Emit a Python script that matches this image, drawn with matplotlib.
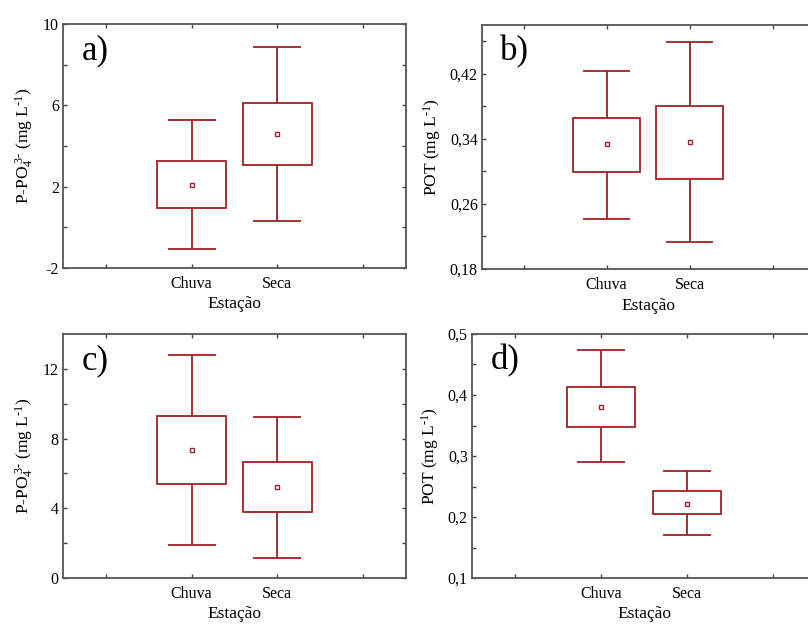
import matplotlib
matplotlib.use("Agg")
import matplotlib.pyplot as plt
import numpy as np

plt.rcParams['font.family'] = ['Liberation Serif', 'DejaVu Serif']
plt.rcParams['mathtext.fontset'] = 'custom'
plt.rcParams['mathtext.rm'] = 'Liberation Serif'
plt.rcParams['mathtext.it'] = 'Liberation Serif:italic'

# stations (categories)
estacoes = ['Chuva', 'Seca']

# panel a) P-PO4 (mg/L)
a_mean = [2.1, 4.6]
a_box_lo = [0.97, 3.05]
a_box_hi = [3.27, 6.12]
a_whi_lo = [-1.07, 0.33]
a_whi_hi = [5.27, 8.88]

# panel b) POT (mg/L)
b_mean = [0.3335, 0.3367]
b_box_lo = [0.299, 0.291]
b_box_hi = [0.366, 0.380]
b_whi_lo = [0.241, 0.213]
b_whi_hi = [0.424, 0.4585]

# panel c) P-PO4 (mg/L)
c_mean = [7.37, 5.22]
c_box_lo = [5.39, 3.77]
c_box_hi = [9.32, 6.68]
c_whi_lo = [1.89, 1.13]
c_whi_hi = [12.82, 9.26]

# panel d) POT (mg/L)
d_mean = [0.381, 0.222]
d_box_lo = [0.3475, 0.2044]
d_box_hi = [0.4138, 0.2421]
d_whi_lo = [0.2897, 0.170]
d_whi_hi = [0.4733, 0.2754]

RED = '#9e2226'
PO4_LABEL = r'P-PO$_4^{\ 3\text{-}}$ (mg L$^{\text{-}1}$)'
POT_LABEL = r'POT (mg L$^{\text{-}1}$)'


def box_panel(ax, mean, blo, bhi, wlo, whi, ylim, major, minor, fmt, letter, ylabel):
    x = np.arange(1, len(estacoes) + 1)
    blo = np.array(blo); bhi = np.array(bhi)
    ax.bar(x, bhi - blo, bottom=blo, width=0.8, fill=False,
           edgecolor=RED, linewidth=1.3, zorder=2)
    ax.vlines(x, bhi, whi, color=RED, linewidth=1.3)
    ax.vlines(x, wlo, blo, color=RED, linewidth=1.3)
    ax.hlines(whi, x - 0.28, x + 0.28, color=RED, linewidth=1.3)
    ax.hlines(wlo, x - 0.28, x + 0.28, color=RED, linewidth=1.3)
    ax.plot(x, mean, 's', ms=3, mfc='white', mec=RED, mew=1.0, zorder=3)

    ax.set_xlim(-0.5, 3.5)
    ax.set_xticks([0, 1, 2, 3])
    ax.set_xticklabels(['', estacoes[0], estacoes[1], ''])
    ax.set_ylim(*ylim)
    ax.set_yticks(major)
    ax.set_yticks(minor, minor=True)
    ax.set_yticklabels([fmt(v).replace('.', ',') for v in major])
    ax.tick_params(which='both', direction='in', top=True, right=True,
                   length=3, width=1, color='#444444', labelsize=11.5, pad=3)
    ax.tick_params(axis='x', pad=6)
    for s in ax.spines.values():
        s.set_color('#555555')
        s.set_linewidth(1.3)
    ax.set_xlabel('Estação', fontsize=12.5, labelpad=3)
    ax.set_ylabel(ylabel, fontsize=12.5, labelpad=5)
    ax.text(0.055, 0.89, letter, transform=ax.transAxes, fontsize=25,
            va='center', ha='left')


fig = plt.figure(figsize=(8.08, 6.24), dpi=100)
W, H = 808.0, 624.0
ax_a = fig.add_axes([63 / W, 1 - 268 / H, 343 / W, 244 / H])
ax_b = fig.add_axes([482 / W, 1 - 269 / H, 332 / W, 244 / H])
ax_c = fig.add_axes([63 / W, 1 - 578 / H, 343 / W, 244 / H])
ax_d = fig.add_axes([472 / W, 1 - 578 / H, 344 / W, 244 / H])

box_panel(ax_a, a_mean, a_box_lo, a_box_hi, a_whi_lo, a_whi_hi, (-2, 10),
          [-2, 2, 6, 10], [0, 4, 8], lambda v: '%d' % v, 'a)', PO4_LABEL)
box_panel(ax_b, b_mean, b_box_lo, b_box_hi, b_whi_lo, b_whi_hi, (0.18, 0.48),
          [0.18, 0.26, 0.34, 0.42], [0.22, 0.30, 0.38, 0.46],
          lambda v: '%.2f' % v, 'b)', POT_LABEL)
box_panel(ax_c, c_mean, c_box_lo, c_box_hi, c_whi_lo, c_whi_hi, (0, 14),
          [0, 4, 8, 12], [2, 6, 10], lambda v: '%d' % v, 'c)', PO4_LABEL)
box_panel(ax_d, d_mean, d_box_lo, d_box_hi, d_whi_lo, d_whi_hi, (0.1, 0.5),
          [0.1, 0.2, 0.3, 0.4, 0.5], [0.15, 0.25, 0.35, 0.45],
          lambda v: '%.1f' % v, 'd)', POT_LABEL)

fig.savefig('out.png', dpi=100)
